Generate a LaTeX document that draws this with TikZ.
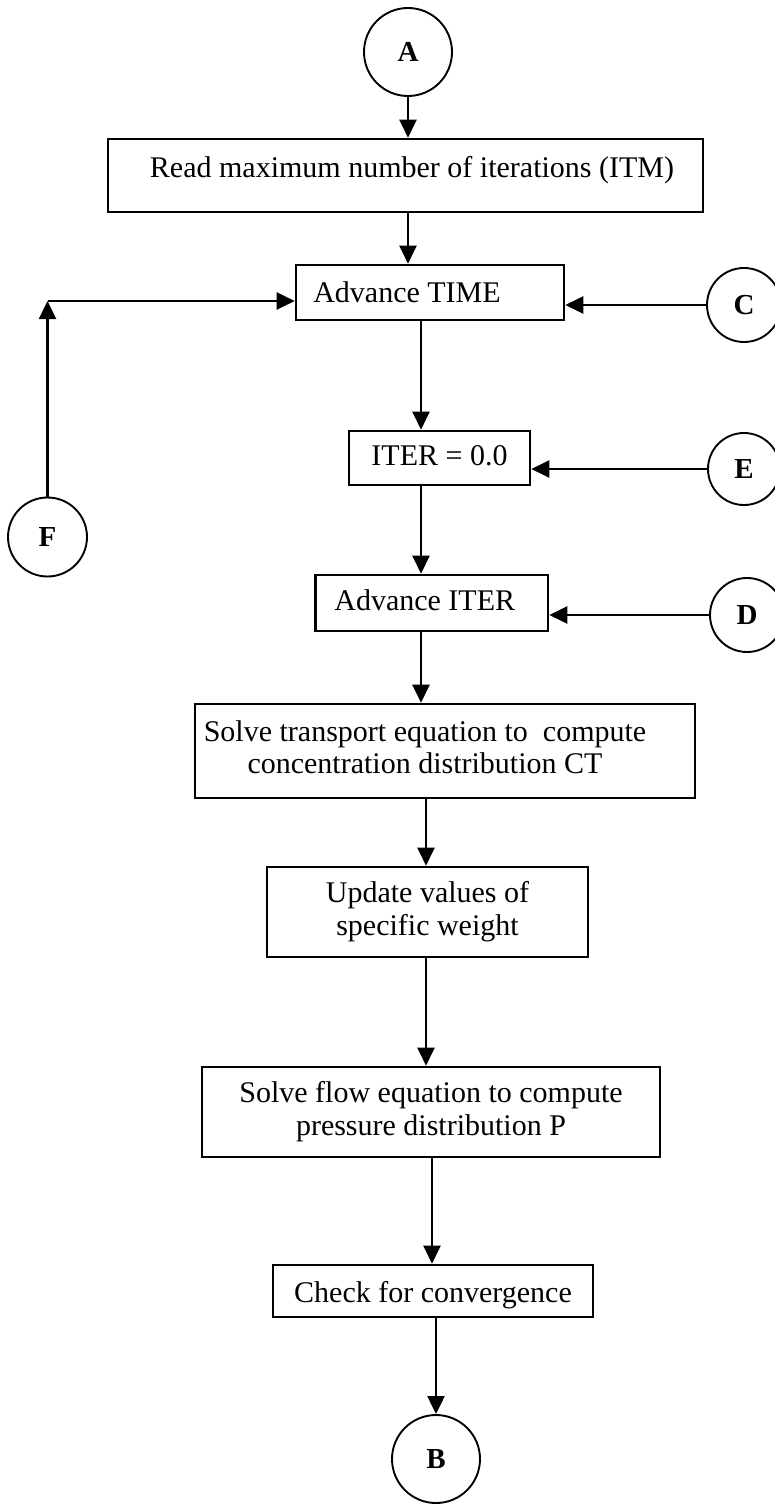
\documentclass[tikz,border=0pt]{standalone}
\usepackage{fontspec}
\setmainfont{Liberation Serif}
\usetikzlibrary{arrows.meta}
\begin{document}
\begin{tikzpicture}[x=1pt,y=-1pt,
  box/.style={draw, line width=2.6pt, inner sep=0pt, font=\fontsize{30}{33}\selectfont, align=center},
  conn/.style={draw, line width=1.9pt, circle, inner sep=0pt, font=\fontsize{29}{32}\selectfont\bfseries},
  arr/.style={line width=2.2pt, -{Triangle[length=18pt,width=17pt]}},
  ln/.style={line width=2.2pt}
]
\useasboundingbox (0,0) rectangle (775,1506);
\fill[white] (0,0) rectangle (775,1506);

% connectors (circles)
\node[conn, minimum size=88pt] (A) at (408,52) {A};
\node[conn, minimum size=74pt] (C) at (744,305) {C};
\node[conn, minimum size=72pt] (E) at (744,469) {E};
\node[conn, minimum size=74pt] (D) at (747,615) {D};
\node[conn, minimum size=79pt] (F) at (47.5,537) {F};
\node[conn, minimum size=88pt] (B) at (436,1459) {B};

% boxes
\node[box, minimum width=595pt, minimum height=73pt, text height=20pt, text depth=15pt] (b1) at (405.5,175.5)
  {\hspace*{13pt}Read maximum number of iterations (ITM)};
\node[box, minimum width=268pt, minimum height=55pt, text height=21pt, text depth=2pt] (b2) at (430,292.5)
  {Advance TIME\hspace*{46pt}};
\node[box, minimum width=181pt, minimum height=54pt, text height=21pt, text depth=7pt] (b3) at (439.5,458)
  {ITER = 0.0};
\node[box, minimum width=232.5pt, minimum height=56pt, text height=21pt, text depth=7pt] (b4) at (431.75,603)
  {Advance ITER\hspace*{14pt}};
\node[box, minimum width=500pt, minimum height=94pt] (b5) at (445,751)
  {\begin{tabular}{@{}c@{}}Solve transport equation to\ \ compute\\[-0.5pt] concentration distribution CT\end{tabular}\hspace*{40pt}};
\node[box, minimum width=321pt, minimum height=90pt] (b6) at (427.5,912)
  {Update values of\\ specific weight};
\node[box, minimum width=458pt, minimum height=90pt] (b7) at (431,1112)
  {Solve flow equation to compute\\ pressure distribution P};
\node[box, minimum width=320pt, minimum height=52pt, text height=22pt, text depth=0pt] (b8) at (433,1291)
  {Check for convergence};

% column coordinates for vertical connectors
\coordinate (c1) at (421,0);
\coordinate (c2) at (426,0);
\coordinate (c3) at (432,0);
\coordinate (fcorner) at (47.5,301);

\draw[arr] (A.south) -- (A.south |- b1.north);
\draw[arr] (b1.south -| A.south) -- (b2.north -| A.south);
\draw[arr] (b2.south -| c1) -- (b3.north -| c1);
\draw[arr] (b3.south -| c1) -- (b4.north -| c1);
\draw[arr] (b4.south -| c1) -- (b5.north -| c1);
\draw[arr] (b5.south -| c2) -- (b6.north -| c2);
\draw[arr] (b6.south -| c2) -- (b7.north -| c2);
\draw[arr] (b7.south -| c3) -- (b8.north -| c3);
\draw[arr] (b8.south -| B.north) -- (B.north);

\draw[arr] (C.west) -- (C.west -| b2.east);
\draw[arr] (E.west) -- (E.west -| b3.east);
\draw[arr] (D.west) -- (D.west -| b4.east);

\draw[arr] (F.north) -- (fcorner);
\draw[arr] (fcorner) -- (fcorner -| b2.west);
\end{tikzpicture}
\end{document}
